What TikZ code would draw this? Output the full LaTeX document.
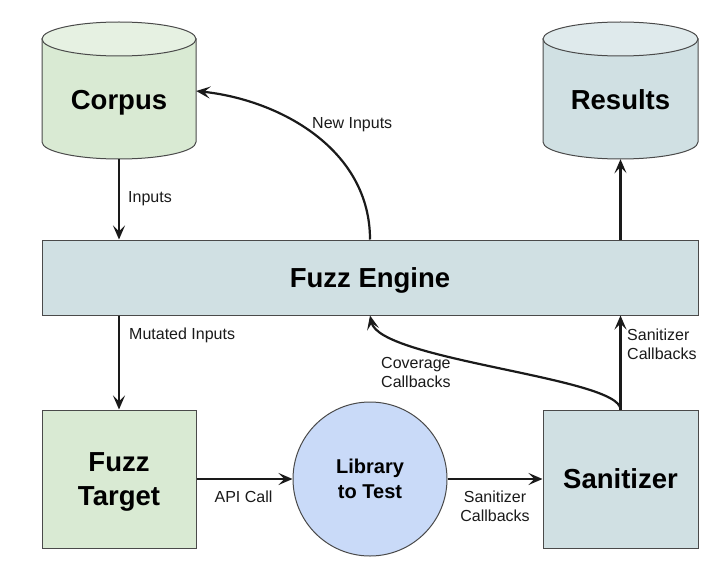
\documentclass[tikz,border=0pt]{standalone}
\usepackage{fontspec}
\setmainfont{Liberation Sans}
\usetikzlibrary{arrows.meta}
\definecolor{greenfill}{HTML}{D9EAD3}
\definecolor{greentop}{HTML}{E6F1E2}
\definecolor{bluefill}{HTML}{D0E0E3}
\definecolor{bluetop}{HTML}{DFEAEC}
\definecolor{circfill}{HTML}{C9DAF8}
\definecolor{edgegray}{HTML}{4A4A4A}
\definecolor{arrowcol}{HTML}{1A1A1A}
\begin{document}
\begin{tikzpicture}[x=1pt,y=-1pt,
  box/.style={draw=edgegray, line width=1pt, rectangle, inner sep=0pt},
  bigtext/.style={font=\fontsize{27.5}{34}\selectfont\bfseries, align=center, text depth=0pt},
  libtext/.style={font=\fontsize{20}{25}\selectfont\bfseries, align=center, text depth=0pt},
  lbl/.style={font=\fontsize{16}{19}\selectfont, inner sep=0pt, text=arrowcol},
  arr/.style={line width=2.2pt, draw=arrowcol, -{Stealth[length=14pt,width=12pt,inset=6pt]}},
  cylbody/.style={draw=edgegray, line width=1pt}
]
\useasboundingbox (0,0) rectangle (719,572);
\fill[white] (0,0) rectangle (719,572);

% Corpus cylinder
\filldraw[cylbody, fill=greenfill] (42,39) -- (42,142)
  arc[start angle=180, end angle=360, x radius=77pt, y radius=17pt] -- (196,39) -- cycle;
\filldraw[cylbody, fill=greentop] (119,39) ellipse[x radius=77pt, y radius=17pt];
\node[bigtext, inner sep=0pt, minimum width=154pt, minimum height=118pt] (corpus) at (119,100) {Corpus};

% Results cylinder
\filldraw[cylbody, fill=bluefill] (543,39) -- (543,142)
  arc[start angle=180, end angle=360, x radius=77.5pt, y radius=17pt] -- (698,39) -- cycle;
\filldraw[cylbody, fill=bluetop] (620.5,39) ellipse[x radius=77.5pt, y radius=17pt];
\node[bigtext, inner sep=0pt, minimum width=155pt, minimum height=118pt] (results) at (620.5,100) {Results};

% Fuzz Engine
\node[box, fill=bluefill, bigtext, minimum width=656pt, minimum height=75pt] (engine) at (370,277.5) {Fuzz Engine};

% Fuzz Target
\node[box, fill=greenfill, bigtext, minimum width=154pt, minimum height=138pt] (target) at (119,479) {Fuzz\\Target};

% Library to Test
\node[circle, draw=edgegray, line width=1pt, fill=circfill, libtext, minimum size=154pt, inner sep=0pt] (lib) at (370,479) {Library\\to Test};

% Sanitizer
\node[box, fill=bluefill, bigtext, minimum width=155pt, minimum height=138pt] (san) at (620.5,479) {Sanitizer};

% Connectors
\draw[arr] (corpus.south) -- (corpus.south |- engine.north);
\draw[arr] (engine.north) .. controls ([yshift=90pt]engine.north) and ([xshift=84pt]corpus.east) .. ([yshift=9pt]corpus.east);
\draw[arr] (results.south |- engine.north) -- (results.south);
\draw[arr] (target.north |- engine.south) -- (target.north);
\draw[arr] (target.east) -- (lib.west);
\draw[arr] (lib.east) -- (san.west);
\draw[arr] (san.north) -- (san.north |- engine.south);
\draw[arr] (san.north) .. controls ([yshift=32pt]san.north) and ([xshift=10pt,yshift=-45pt]engine.south) .. (engine.south);

% Labels
\node[lbl, anchor=base west] (linputs) at (128,202) {Inputs};
\node[lbl, anchor=base west] (lnew) at (312,129) {New Inputs};
\node[lbl, anchor=base west] (lmut) at (129,339) {Mutated Inputs};
\node[lbl, anchor=west, align=left, text depth=0pt] (lcov) at (381,372) {Coverage\\Callbacks};
\node[lbl, anchor=west, align=left, text depth=0pt] (lsanup) at (627,344) {Sanitizer\\Callbacks};
\node[lbl, anchor=base] (lapi) at (243.5,502) {API Call};
\node[lbl, align=center, text depth=0pt] (lsancb) at (495,506) {Sanitizer\\Callbacks};
\end{tikzpicture}
\end{document}
